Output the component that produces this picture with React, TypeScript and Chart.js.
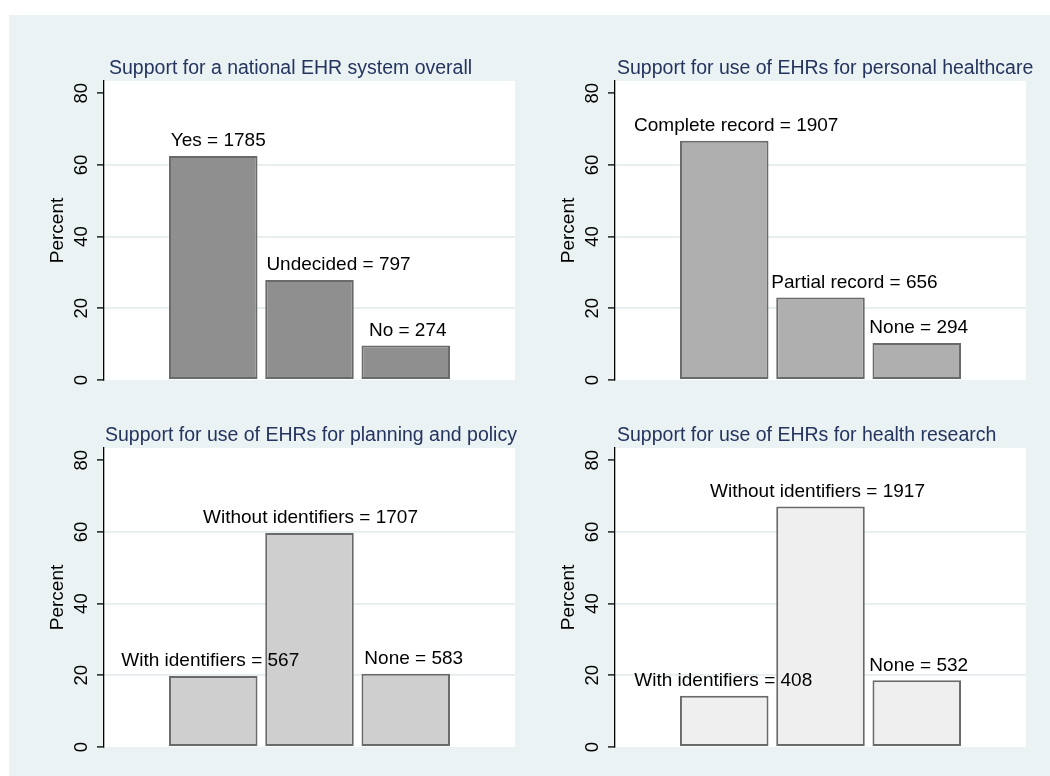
import React, { useEffect, useRef } from "react";
import { Chart, registerables } from "chart.js";

Chart.register(...registerables);

// ---- data ----
const titles = [
  "Support for a national EHR system overall",
  "Support for use of EHRs for personal healthcare",
  "Support for use of EHRs for planning and policy",
  "Support for use of EHRs for health research",
];

const overallCategories = ["Yes", "Undecided", "No"];
const overallCounts = [1785, 797, 274];
const overallPercent = [62.5, 27.9, 9.6];

const personalCategories = ["Complete record", "Partial record", "None"];
const personalCounts = [1907, 656, 294];
const personalPercent = [66.7, 23.0, 10.3];

const planningCategories = ["With identifiers", "Without identifiers", "None"];
const planningCounts = [567, 1707, 583];
const planningPercent = [19.8, 59.7, 20.4];

const researchCategories = ["With identifiers", "Without identifiers", "None"];
const researchCounts = [408, 1917, 532];
const researchPercent = [14.3, 67.1, 18.6];

const yTicks = [0, 20, 40, 60, 80];
const yMax = 83.4;
const yAxisTitle = "Percent";
const barPositions = [1, 2, 3];

// ---- styles / layout ----
const FONT = '"Liberation Sans", Arial, Helvetica, sans-serif';
const BG = "#eaf2f3";
const GRID = "#e4edef";
const TITLE_COLOR = "#24345f";
const BORDER = "#6a6a6a";

type PanelProps = {
  title: string;
  categories: string[];
  counts: number[];
  percents: number[];
  fill: string;
  labelShift: number[];
  titleShift: number;
  left: number;
  top: number;
};

const CANVAS_W = 510;
const CANVAS_H = 350;

function Panel(props: PanelProps) {
  const ref = useRef<HTMLCanvasElement | null>(null);

  useEffect(() => {
    if (!ref.current) return;
    const { title, categories, counts, percents, fill, labelShift, titleShift } = props;

    const overlay = {
      id: "overlay",
      beforeDraw(chart: any) {
        const { ctx, chartArea: a } = chart;
        ctx.save();
        ctx.fillStyle = "#ffffff";
        ctx.fillRect(a.left, a.top, a.right - a.left, a.bottom - a.top);
        ctx.restore();
      },
      afterDraw(chart: any) {
        const { ctx, chartArea: a } = chart;
        const ys = chart.scales.y;
        ctx.save();
        // y tick labels (rotated)
        ctx.font = `18.5px ${FONT}`;
        ctx.fillStyle = "#000";
        ctx.textAlign = "center";
        ctx.textBaseline = "middle";
        yTicks.forEach((v) => {
          const py = ys.getPixelForValue(v);
          ctx.save();
          ctx.translate(a.left - 22.5, py);
          ctx.rotate(-Math.PI / 2);
          ctx.fillText(String(v), 0, 0);
          ctx.restore();
        });
        // axis title
        ctx.font = `19px ${FONT}`;
        ctx.save();
        ctx.translate(a.left - 46, (a.top + a.bottom) / 2);
        ctx.rotate(-Math.PI / 2);
        ctx.fillText(yAxisTitle, 0, 0);
        ctx.restore();
        // panel title
        ctx.font = `19.5px ${FONT}`;
        ctx.fillStyle = TITLE_COLOR;
        ctx.textAlign = "left";
        ctx.textBaseline = "alphabetic";
        ctx.fillText(title, a.left + titleShift, a.top - 7);
        // bar labels
        ctx.font = `19px ${FONT}`;
        ctx.fillStyle = "#000";
        ctx.textAlign = "center";
        ctx.textBaseline = "middle";
        const meta = chart.getDatasetMeta(0);
        meta.data.forEach((bar: any, i: number) => {
          ctx.fillText(`${categories[i]} = ${counts[i]}`, bar.x + labelShift[i], bar.y - 15);
        });
        ctx.restore();
      },
    };

    const chart = new Chart(ref.current, {
      type: "bar",
      data: {
        datasets: [
          {
            data: percents.map((v, i) => ({ x: barPositions[i], y: v })),
            backgroundColor: fill,
            borderColor: BORDER,
            borderWidth: 2,
            borderSkipped: false,
            barPercentage: 0.92,
            categoryPercentage: 1,
          },
        ],
      },
      options: {
        responsive: false,
        animation: false,
        events: [],
        layout: { padding: { left: 0, top: 41, right: 15, bottom: 10 } },
        plugins: {
          legend: { display: false },
          title: { display: false },
          tooltip: { enabled: false },
        },
        scales: {
          x: {
            type: "linear",
            display: false,
            offset: false,
            min: -0.135,
            max: 4.135,
            afterBuildTicks: (s: any) => {
              s.ticks = barPositions.map((v) => ({ value: v }));
            },
          },
          y: {
            type: "linear",
            min: 0,
            max: yMax,
            afterBuildTicks: (s: any) => {
              s.ticks = yTicks.map((v) => ({ value: v }));
            },
            afterFit: (s: any) => {
              s.width = 84;
            },
            ticks: { display: false },
            grid: {
              color: (c: any) =>
                c.tick && c.tick.value > yTicks[0] && c.tick.value < yTicks[yTicks.length - 1]
                  ? GRID
                  : "rgba(0,0,0,0)",
              lineWidth: 1.8,
              drawTicks: true,
              tickLength: 7,
              tickColor: "#000",
              tickWidth: 1.3,
            },
            border: { display: true, color: "#000", width: 1.3 },
          },
        },
      } as any,
      plugins: [overlay],
    });

    return () => chart.destroy();
  }, []);

  return (
    <canvas
      ref={ref}
      width={CANVAS_W}
      height={CANVAS_H}
      style={{
        position: "absolute",
        left: props.left,
        top: props.top,
        width: CANVAS_W,
        height: CANVAS_H,
      }}
    />
  );
}

export default function App() {
  return (
    <div
      style={{
        position: "absolute",
        left: 0,
        top: 0,
        width: 1050,
        height: 776,
        overflow: "hidden",
        background: "#ffffff",
      }}
    >
      <div
        style={{
          position: "absolute",
          left: 9,
          top: 15,
          width: 1041,
          height: 761,
          background: BG,
        }}
      />
      <Panel
        title={titles[0]}
        categories={overallCategories}
        counts={overallCounts}
        percents={overallPercent}
        fill="#8f8f8f"
        labelShift={[5, 29, 2]}
        titleShift={5}
        left={20}
        top={40}
      />
      <Panel
        title={titles[1]}
        categories={personalCategories}
        counts={personalCounts}
        percents={personalPercent}
        fill="#afafaf"
        labelShift={[12, 34, 2]}
        titleShift={2}
        left={531}
        top={40}
      />
      <Panel
        title={titles[2]}
        categories={planningCategories}
        counts={planningCounts}
        percents={planningPercent}
        fill="#cfcfcf"
        labelShift={[-3, 1, 8]}
        titleShift={1}
        left={20}
        top={407}
      />
      <Panel
        title={titles[3]}
        categories={researchCategories}
        counts={researchCounts}
        percents={researchPercent}
        fill="#efefef"
        labelShift={[-1, -3, 2]}
        titleShift={2}
        left={531}
        top={407}
      />
    </div>
  );
}
